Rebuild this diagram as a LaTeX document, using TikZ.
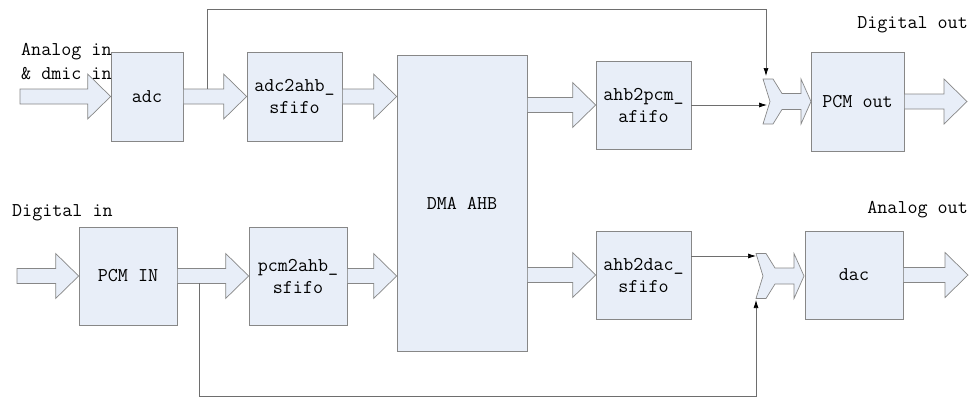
\documentclass[tikz,border=0pt]{standalone}
\usepackage{fontspec}
\usepackage{tikz}
\usetikzlibrary{calc}
\usetikzlibrary{arrows.meta}

\definecolor{boxfill}{RGB}{232,238,248}
\definecolor{boxline}{RGB}{135,135,135}
\definecolor{wire}{RGB}{110,110,110}

\begin{document}
\begin{tikzpicture}[x=1pt, y=-1pt,
        blk/.style={draw=boxline, fill=boxfill, line width=0.7pt, inner sep=0pt, align=center,
            font=\ttfamily\fontsize{19.5}{22}\selectfont},
        box/.style={draw=boxline, fill=boxfill, line width=0.7pt},
        lbl/.style={font=\ttfamily\fontsize{19.5}{24}\selectfont, inner sep=0pt},
        wirearrow/.style={draw=wire, line width=0.7pt, -{Latex[black, length=8pt, width=5pt]}},
        fat/.style={to path={let \p1=(\tikztostart), \p2=(\tikztotarget) in
            (\x1,\y1+7.5pt) -- (\x2-23pt,\y1+7.5pt) -- (\x2-23pt,\y1+22.5pt) -- (\x2,\y1)
            -- (\x2-23pt,\y1-22.5pt) -- (\x2-23pt,\y1-7.5pt) -- (\x1,\y1-7.5pt) -- cycle}},
        merge/.pic={\draw[box] (0,-22.5) -- (10,-22.5) -- (19,-8) -- (38,-8) -- (38,-22.5) -- (48,0)
            -- (38,22.5) -- (38,8) -- (19,8) -- (10,22.5) -- (0,22.5) -- (7,0) -- cycle;}]
        	\useasboundingbox (0,0) rectangle (970,397);
        	\node[blk, minimum width=72, minimum height=89] (A) at (147, 96.5) {adc};
        	\node[blk, minimum width=95, minimum height=89] (B) at (294.5, 96.5) {adc2ahb\_\\sfifo};
        	\node[blk, minimum width=130, minimum height=296] (D) at (462, 203) {DMA AHB};
        	\node[blk, minimum width=95, minimum height=88] (E) at (643.5, 105) {ahb2pcm\_\\afifo};
        	\node[blk, minimum width=93, minimum height=99] (F) at (857.5, 101.5) {PCM out};
        	\node[blk, minimum width=98, minimum height=98] (G) at (128, 276) {PCM IN};
        	\node[blk, minimum width=98, minimum height=98] (H) at (298, 276) {pcm2ahb\_\\sfifo};
        	\node[blk, minimum width=95, minimum height=88] (I) at (643.5, 275) {ahb2dac\_\\sfifo};
        	\node[blk, minimum width=98, minimum height=88] (J) at (854, 275) {dac};
        	\coordinate (P) at (20, 96.5);
        	\coordinate (Q) at (17, 276);
        	\coordinate (R) at (967, 101.5);
        	\coordinate (S) at (968, 276);
        	\draw[box] (P) to[fat] (A.west);
        	\draw[box] (A.east) to[fat] (B.west);
        	\draw[box] (B.east) to[fat] (D.west);
        	\draw[box] (E.west -| D.east) to[fat] (E.west);
        	\draw[box] (F.east) to[fat] (R);
        	\draw[box] (Q) to[fat] (G.west);
        	\draw[box] (G.east) to[fat] (H.west);
        	\draw[box] (H.east) to[fat] (D.west);
        	\draw[box] (I.west -| D.east) to[fat] (I.west);
        	\draw[box] (J.east) to[fat] (S);
        	\pic at (763, 101.5) {merge};
        	\pic at (756, 276) {merge};
        	\coordinate (T1) at (207, 89);
        	\coordinate (T2) at (766, 76);
        	\coordinate (T3) at (767, 105);
        	\coordinate (B1) at (199, 283);
        	\coordinate (B2) at (756, 300);
        	\coordinate (B3) at (756, 256);
        	\draw[wirearrow] (T1) -- ++(0,-80) -| (T2);
        	\draw[wirearrow] (E.east) -- (T3);
        	\draw[wirearrow] (B1) -- ++(0,113) -| (B2);
        	\draw[wirearrow] ([yshift=19pt]I.east) -- (B3);
        	\node[lbl, anchor=west, align=left] (K) at (21, 62) {Analog in\\\& dmic in};
        	\node[lbl, anchor=east] (L) at (968, 25) {Digital out};
        	\node[lbl, anchor=west] (M) at (12, 213) {Digital in};
        	\node[lbl, anchor=east] (N) at (968, 210) {Analog out};
\end{tikzpicture}
\end{document}
